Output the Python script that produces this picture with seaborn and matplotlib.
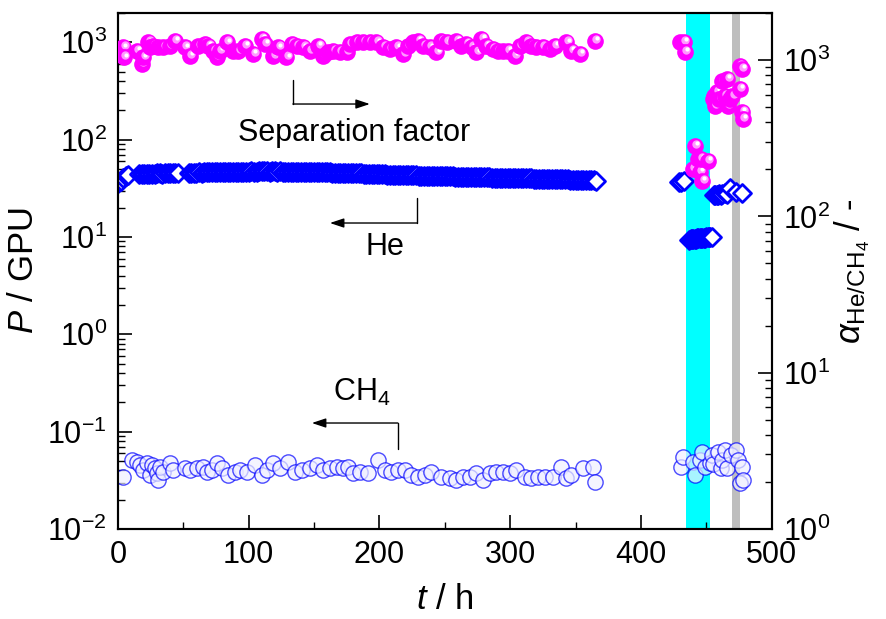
import matplotlib
matplotlib.use('Agg')
import numpy as np
import matplotlib.pyplot as plt
import matplotlib.transforms as mtransforms
from matplotlib.ticker import LogLocator, NullFormatter, MultipleLocator
import seaborn as sns

# He permeance (GPU), left axis
he_t = [0, 2, 4, 6, 8,
        16, 18, 20, 22, 24, 26, 28, 30, 32, 34, 36, 38, 40, 42, 44, 46,
        54, 56, 58, 60, 62, 64, 66, 68, 70, 72,
        74, 76, 78, 80, 82, 84, 86, 88, 90, 92,
        94, 96, 98, 100, 102, 104, 106, 108, 110, 112,
        114, 116, 118, 120, 122, 124, 126, 128, 130, 132,
        134, 136, 138, 140, 142, 144, 146, 148, 150, 152,
        154, 156, 158, 160, 162, 164, 166, 168, 170, 172,
        174, 176, 178, 180, 182, 184, 186, 188, 190, 192,
        194, 196, 198, 200, 202, 204, 206, 208, 210, 212,
        214, 216, 218, 220, 222, 224, 226, 228, 230, 232,
        234, 236, 238, 240, 242, 244, 246, 248, 250, 252,
        254, 256, 258, 260, 262, 264, 266, 268, 270, 272,
        274, 276, 278, 280, 282, 284, 286, 288, 290, 292,
        294, 296, 298, 300, 302, 304, 306, 308, 310, 312,
        314, 316, 318, 320, 322, 324, 326, 328, 330, 332,
        334, 336, 338, 340, 342, 344, 346, 348, 350, 352,
        354, 356, 358, 360, 362, 364, 366,
        429, 431, 433,
        437, 438, 439, 440, 441, 442, 443, 444, 445, 446, 447, 448, 449, 450, 451, 452, 453, 454,
        456, 457, 458, 459, 460, 461, 462, 464, 466, 468, 473, 477]
he_perm = [36.0, 38.0, 40.0, 42.0, 43.5,
           44.0, 44.2, 44.5, 44.3, 44.6, 44.8, 44.5, 44.9, 45.0, 44.8, 45.1, 45.0, 45.3, 45.2, 45.4, 45.3,
           45.7, 45.8, 45.7, 45.9, 46.0, 45.9, 46.1, 46.2, 46.1, 46.3,
           46.2, 46.4, 46.5, 46.4, 46.6, 46.5, 46.7, 46.8, 46.7, 46.8,
           46.9, 46.8, 47.0, 46.9, 47.1, 47.0, 47.0, 47.2, 47.1, 47.1,
           47.2, 47.0, 47.1, 47.2, 47.0, 47.1, 46.9, 47.0, 46.9, 46.9,
           46.8, 46.9, 46.7, 46.8, 46.6, 46.7, 46.5, 46.6, 46.4, 46.4,
           46.3, 46.2, 46.2, 46.0, 46.1, 45.9, 45.8, 45.8, 45.6, 45.5,
           45.5, 45.3, 45.2, 45.2, 45.0, 44.9, 44.9, 44.7, 44.6, 44.6,
           44.4, 44.3, 44.3, 44.1, 44.0, 44.0, 43.8, 43.7, 43.7, 43.6,
           43.5, 43.4, 43.3, 43.3, 43.2, 43.0, 43.0, 42.9, 42.8, 42.7,
           42.7, 42.6, 42.5, 42.4, 42.4, 42.3, 42.2, 42.1, 42.1, 42.0,
           41.9, 41.9, 41.8, 41.7, 41.6, 41.6, 41.5, 41.4, 41.4, 41.3,
           41.2, 41.2, 41.1, 41.0, 41.0, 40.9, 40.8, 40.8, 40.7, 40.7,
           40.6, 40.5, 40.5, 40.4, 40.4, 40.3, 40.2, 40.2, 40.1, 40.0,
           40.0, 39.9, 39.8, 39.8, 39.7, 39.6, 39.6, 39.5, 39.4, 39.4,
           39.3, 39.2, 39.2, 39.1, 39.0, 39.0, 38.9, 38.8, 38.8, 38.7,
           38.6, 38.6, 38.5, 38.4, 38.3, 38.1, 37.8,
           36.5, 37.0, 37.5,
           9.4, 9.5, 9.5, 9.6, 9.6, 9.6, 9.7, 9.7, 9.7, 9.8, 9.8, 9.8, 9.8, 9.9, 9.9, 9.9, 9.9, 10.0,
           27.0, 26.8, 27.2, 27.0, 27.4, 27.1, 27.6, 28.0, 27.5, 31.5, 29.0, 28.3]

# CH4 permeance (GPU), left axis
ch4_t = [4.1, 10.5, 14.3, 16.8, 19.4, 21.9, 24.5, 25.8, 28.3, 29.6,
         30.8, 32.1, 34.7, 39.8, 42.3, 51.2, 55.1, 60.1, 65.2, 67.8,
         71.6, 75.4, 79.3, 84.4, 89.4, 93.3, 98.4, 104.7, 109.8, 113.7,
         118.7, 123.8, 130.2, 135.3, 140.4, 146.8, 151.9, 157.0, 162.1, 167.2,
         172.3, 176.1, 179.9, 185.0, 191.4, 199.0, 204.1, 209.2, 214.3, 219.4,
         224.5, 229.6, 234.7, 239.8, 247.4, 253.8, 258.9, 264.0, 269.1, 274.2,
         279.3, 284.4, 289.5, 294.6, 299.7, 304.7, 311.1, 316.2, 321.3, 326.4,
         332.8, 339.2, 343.0, 346.8, 355.7, 363.4, 364.6,
         431, 432, 440, 441, 445, 447, 449, 452.6, 454, 455,
         459, 461, 462, 464, 466, 469, 473, 474, 476, 477, 478]
ch4_perm = [0.0345, 0.0513, 0.0493, 0.0456, 0.0405, 0.0474, 0.0359, 0.0456, 0.0421, 0.0374,
            0.0319, 0.0438, 0.0389, 0.0474, 0.0405, 0.0421, 0.0405, 0.0421, 0.0438, 0.0389,
            0.0405, 0.0474, 0.0421, 0.0359, 0.0389, 0.0405, 0.0389, 0.0456, 0.0359, 0.0405,
            0.0474, 0.0421, 0.0493, 0.0389, 0.0405, 0.0421, 0.0456, 0.0405, 0.0421, 0.0438,
            0.0421, 0.0438, 0.0374, 0.0389, 0.0374, 0.0513, 0.0405, 0.0389, 0.0405, 0.0405,
            0.0359, 0.0345, 0.0359, 0.0389, 0.0345, 0.0332, 0.0319, 0.0345, 0.0345, 0.0374,
            0.0319, 0.0374, 0.0389, 0.0389, 0.0374, 0.0405, 0.0345, 0.0332, 0.0345, 0.0345,
            0.0345, 0.0438, 0.0332, 0.0359, 0.0421, 0.0438, 0.0306,
            0.0437, 0.0551, 0.049, 0.036, 0.051, 0.062, 0.0437, 0.048, 0.058, 0.046,
            0.062, 0.042, 0.051, 0.065, 0.042, 0.058, 0.065, 0.051, 0.030, 0.0437, 0.032]

# He/CH4 separation factor, right axis
sep_t = [4.1, 4.5, 14.3, 18.1, 19.4, 23.2, 24.5, 27.0, 30.8, 34.7,
         39.8, 43.6, 51.2, 55.1, 61.4, 66.5, 69.1, 72.9, 75.4, 78.0,
         83.1, 88.2, 92.0, 97.1, 103.5, 109.8, 112.4, 118.7, 122.6, 128.9,
         132.8, 136.6, 141.7, 146.8, 153.1, 157.0, 160.8, 164.6, 169.7, 174.8,
         177.4, 182.5, 187.5, 192.6, 197.7, 202.8, 207.9, 213.0, 218.1, 221.9,
         225.8, 229.6, 233.4, 238.5, 243.6, 247.4, 251.3, 258.9, 262.7, 266.5,
         270.4, 274.2, 278.0, 281.8, 286.9, 290.7, 294.6, 298.4, 303.5, 307.3,
         312.4, 316.2, 320.0, 325.1, 330.2, 334.0, 343.0, 346.8, 353.2, 364.6,
         430, 433, 433.5, 439.6, 441, 443.4, 445, 446, 447, 451,
         455, 455.5, 456.5, 458, 460, 462, 464, 466, 466.5, 468,
         470, 475.5, 475.5, 477, 477.5, 478]
sep_val = [1206, 1040, 1148, 943, 1040, 1298, 1206, 1235, 1206, 1206,
           1235, 1330, 1206, 1066, 1235, 1267, 1235, 1148, 1040, 1148,
           1298, 1148, 1148, 1235, 1093, 1365, 1267, 1066, 1206, 1040,
           1267, 1235, 1206, 1148, 1235, 1066, 1120, 1148, 1120, 1120,
           1267, 1298, 1298, 1298, 1298, 1206, 1176, 1206, 1093, 1235,
           1298, 1330, 1235, 1206, 1120, 1330, 1298, 1330, 1235, 1267,
           1206, 1120, 1365, 1235, 1176, 1148, 1148, 1148, 1066, 1235,
           1298, 1235, 1206, 1206, 1176, 1235, 1298, 1148, 1093, 1330,
           1304, 1304, 1125, 200, 281, 232, 192, 232, 168, 226,
           562, 590, 507, 624, 562, 733, 588, 755, 507, 562,
           588, 915, 652, 876, 464, 419]

# shaded periods (h)
cyan_span = [434.2, 453.1]
grey_span = [469.6, 476.0]

sns.set_style('ticks')
plt.rcParams['font.family'] = ['Liberation Sans', 'DejaVu Sans']
plt.rcParams['mathtext.fontset'] = 'custom'
plt.rcParams['mathtext.rm'] = 'Liberation Sans'
plt.rcParams['mathtext.it'] = 'Liberation Sans:italic'
for key in ('text.color', 'axes.labelcolor', 'xtick.color', 'ytick.color', 'axes.edgecolor'):
    plt.rcParams[key] = 'black'

fig = plt.figure(figsize=(8.87, 6.19), dpi=100)
ax = fig.add_axes([0.133, 0.1454, 0.737, 0.8336])
ax2 = ax.twinx()

ax.axvspan(*cyan_span, color='#00FFFF', lw=0, zorder=0)
ax.axvspan(*grey_span, color='#BEBEBE', lw=0, zorder=0)

sns.scatterplot(x=ch4_t, y=ch4_perm, ax=ax, marker='o', s=11 ** 2,
                color=(0.94, 0.94, 1.0), edgecolor='#0000FF', linewidth=1.0,
                alpha=0.7, zorder=3)
sns.scatterplot(x=he_t, y=he_perm, ax=ax, marker='D', s=84,
                color='white', edgecolor='#0000FF', linewidth=2.0, zorder=4)

# pink "spheres": body + highlight, one by one so overlaps look right
hl1 = ax2.transData + mtransforms.ScaledTranslation(1.0 / 72, 1.5 / 72, fig.dpi_scale_trans)
hl2 = ax2.transData + mtransforms.ScaledTranslation(1.5 / 72, 2.0 / 72, fig.dpi_scale_trans)
for t, a in zip(sep_t, sep_val):
    ax2.scatter(t, a, s=12 ** 2, color='#FF00FF', lw=0, zorder=3)
    ax2.scatter(t, a, s=6 ** 2, color='#FF99FF', lw=0, transform=hl1, zorder=3)
    ax2.scatter(t, a, s=3 ** 2, color='white', lw=0, transform=hl2, zorder=3)

ax.set_xlim(0, 500)
ax.set_yscale('log')
ax.set_ylim(1e-2, 2e3)
ax2.set_yscale('log')
ax2.set_ylim(1, 2e3)

ax.xaxis.set_major_locator(MultipleLocator(100))
ax.xaxis.set_minor_locator(MultipleLocator(50))
for a_ in (ax, ax2):
    a_.yaxis.set_major_locator(LogLocator(base=10, numticks=20))
    a_.yaxis.set_minor_locator(LogLocator(base=10, subs=np.arange(2, 10), numticks=50))
    a_.yaxis.set_minor_formatter(NullFormatter())
    a_.tick_params(which='major', direction='in', length=10, width=1.2, labelsize=22, pad=8)
    a_.tick_params(which='minor', direction='in', length=5, width=1.0)
    for s in a_.spines.values():
        s.set_linewidth(1.5)
        s.set_color('black')
ax.tick_params(axis='y', which='both', left=True, right=False)
ax.tick_params(axis='x', which='both', bottom=True, top=False)
ax2.tick_params(axis='y', which='both', left=False, right=True)

ax.set_xlabel(r'$\mathit{t}$ / h', fontsize=25)
ax.set_ylabel(r'$\mathit{P}$ / GPU', fontsize=25)
ax2.set_ylabel(r'$\alpha_{\mathregular{He/CH}_{\mathregular{4}}}$ / -', fontsize=25)
ax.xaxis.set_label_coords(0.5, -0.105)
ax.yaxis.set_label_coords(-0.12, 0.5)
ax2.yaxis.set_label_coords(1.093, 0.5)

# annotation arrows (axes fraction)
arrow = dict(arrowstyle='-|>,head_length=0.6,head_width=0.2', lw=1.0, color='black',
             mutation_scale=14, shrinkA=0, shrinkB=0)
ax.plot([0.2676, 0.2676], [0.870, 0.8236], color='black', lw=1.0, transform=ax.transAxes)
ax.annotate('', xy=(0.3853, 0.8236), xytext=(0.2676, 0.8236), xycoords='axes fraction',
            arrowprops=arrow)
ax.text(0.361, 0.7674, 'Separation factor', transform=ax.transAxes, ha='center', va='center',
        fontsize=22)

ax.plot([0.4572, 0.4572], [0.6415, 0.5930], color='black', lw=1.0, transform=ax.transAxes)
ax.annotate('', xy=(0.3242, 0.5930), xytext=(0.4572, 0.5930), xycoords='axes fraction',
            arrowprops=arrow)
ax.text(0.4083, 0.5465, 'He', transform=ax.transAxes, ha='center', va='center', fontsize=22)

ax.plot([0.4281, 0.4281], [0.155, 0.2054], color='black', lw=1.0, transform=ax.transAxes)
ax.annotate('', xy=(0.2966, 0.2054), xytext=(0.4281, 0.2054), xycoords='axes fraction',
            arrowprops=arrow)
ax.text(0.3731, 0.265, r'CH$_{\mathregular{4}}$', transform=ax.transAxes, ha='center',
        va='center', fontsize=22)

fig.savefig('out.png', dpi=100)
